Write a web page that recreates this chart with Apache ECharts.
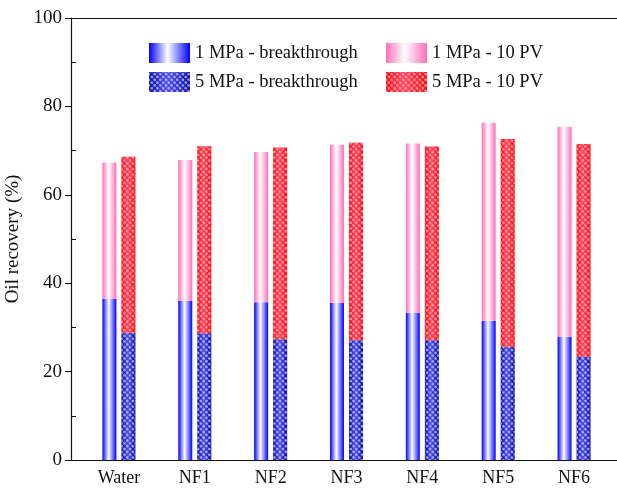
<!DOCTYPE html>
<html><head><meta charset="utf-8">
<script src="https://cdn.jsdelivr.net/npm/echarts@6/dist/echarts.min.js"></script>
<style>html,body{margin:0;padding:0;background:#fff}#c{width:617px;height:491px}</style>
</head><body><div id="c"></div>
<script>
const categories = ['Water', 'NF1', 'NF2', 'NF3', 'NF4', 'NF5', 'NF6'];
const bt1MPa = [36.4, 36.0, 35.7, 35.5, 33.3, 31.5, 27.9];
const total1MPa = [67.3, 67.9, 69.7, 71.3, 71.6, 76.3, 75.4];
const bt5MPa = [28.8, 28.7, 27.3, 27.1, 27.1, 25.6, 23.4];
const total5MPa = [68.6, 71.0, 70.7, 71.8, 70.9, 72.6, 71.5];
const seriesNames = ['1 MPa - breakthrough', '1 MPa - 10 PV', '5 MPa - breakthrough', '5 MPa - 10 PV'];
const yMin = 0, yMax = 100, yStep = 20;

const diff = (a, b) => a.map((v, i) => +(v - b[i]).toFixed(2));
const FONT = '"Liberation Serif", "DejaVu Serif", serif';

const grad = (edge, mid) => ({
  type: 'linear', x: 0, y: 0, x2: 1, y2: 0,
  colorStops: [{offset: 0, color: edge}, {offset: 0.45, color: mid}, {offset: 1, color: edge}]
});
const lattice = (c) => ({
  symbol: 'circle', symbolSize: 0.9, color: c,
  dashArrayX: [3, 1], dashArrayY: [3, 1], rotation: Math.PI / 4
});
const hiddenParts = {axisLine: {show: false}, axisTick: {show: false}, axisLabel: {show: false},
  splitLine: {show: false}, splitArea: {show: false}, minorTick: {show: false}, minorSplitLine: {show: false}};

const chart = echarts.init(document.getElementById('c'), null, {renderer: 'canvas'});
const frameTop = 18, frameBottom = 31;
const pxPerUnit = (491 - frameTop - frameBottom) / (yMax - yMin);
const common = {barWidth: 14, barGap: '36%', xAxisIndex: 2, yAxisIndex: 1, type: 'bar'};
const legendCommon = {orient: 'vertical', itemWidth: 41, itemHeight: 20, itemGap: 9, icon: 'rect', padding: 0,
  textStyle: {fontFamily: FONT, fontSize: 18.5, color: '#111'}};

chart.setOption({
  animation: false,
  backgroundColor: '#fff',
  grid: [
    {left: 71, right: -3, top: frameTop, bottom: frameBottom, outerBoundsMode: 'none', show: false},
    {left: 81, right: 5, top: frameTop, bottom: frameBottom, outerBoundsMode: 'none', show: false},
    {left: 71, right: -3, top: frameTop + 10 * pxPerUnit, bottom: frameBottom + 10 * pxPerUnit, outerBoundsMode: 'none', show: false}
  ],
  legend: [
    Object.assign({left: 149, top: 43, data: [seriesNames[0], seriesNames[2]]}, legendCommon),
    Object.assign({left: 386, top: 43, data: [seriesNames[1], seriesNames[3]]}, legendCommon)
  ],
  xAxis: [
    Object.assign({gridIndex: 0, type: 'value', min: 0, max: 1, position: 'bottom'}, hiddenParts,
     {axisLine: {show: true, onZero: false, lineStyle: {color: '#111', width: 1.2}}}),
    Object.assign({gridIndex: 0, type: 'value', min: 0, max: 1, position: 'top'}, hiddenParts,
     {axisLine: {show: true, onZero: false, lineStyle: {color: '#111', width: 1.2}}}),
    Object.assign({gridIndex: 1, type: 'category', data: categories}, hiddenParts,
     {axisLabel: {show: true, fontFamily: FONT, fontSize: 18, color: '#111', margin: 9, interval: 0}}),
    Object.assign({gridIndex: 2, type: 'value', min: 0, max: 1}, hiddenParts)
  ],
  yAxis: [
    {gridIndex: 0, type: 'value', min: yMin, max: yMax, interval: yStep,
     name: 'Oil recovery (%)', nameLocation: 'middle', nameGap: 43,
     nameTextStyle: {fontFamily: FONT, fontSize: 19, color: '#111'},
     axisLine: {show: true, lineStyle: {color: '#111', width: 1.2}},
     axisTick: {show: true, inside: false, length: 6, lineStyle: {color: '#111'}},
     axisLabel: {fontFamily: FONT, fontSize: 19, color: '#111', margin: 9},
     splitLine: {show: false}},
    Object.assign({gridIndex: 1, type: 'value', min: yMin, max: yMax, show: false}, hiddenParts),
    Object.assign({gridIndex: 2, type: 'value', min: 10, max: 90, interval: 20}, hiddenParts,
     {axisTick: {show: true, inside: true, length: 5, lineStyle: {color: '#111'}}})
  ],
  series: [
    Object.assign({name: seriesNames[0], stack: 'a', data: bt1MPa,
      itemStyle: {color: grad('#0000ff', '#ffffff')}}, common),
    Object.assign({name: seriesNames[1], stack: 'a', data: diff(total1MPa, bt1MPa),
      itemStyle: {color: grad('#ff6fb7', '#ffffff')}}, common),
    Object.assign({name: seriesNames[2], stack: 'b', data: bt5MPa,
      itemStyle: {color: grad('#0000a0', '#4848f0'), decal: lattice('rgba(215,220,255,0.85)')}}, common),
    Object.assign({name: seriesNames[3], stack: 'b', data: diff(total5MPa, bt5MPa),
      itemStyle: {color: grad('#ff0000', '#ff4050'), decal: lattice('rgba(255,185,210,0.9)')}}, common)
  ]
});
</script></body></html>
